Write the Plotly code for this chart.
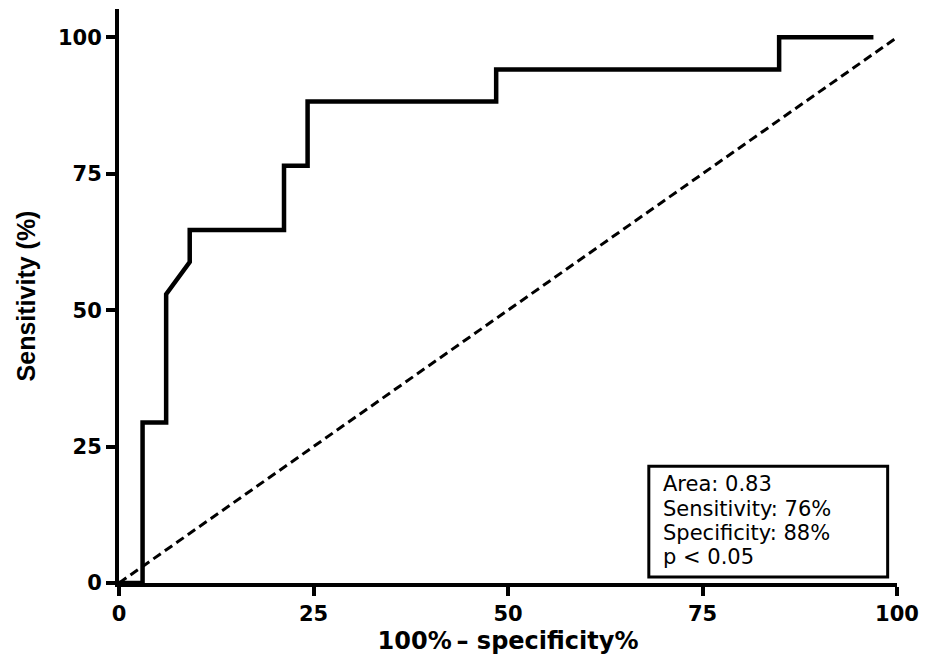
import plotly.graph_objects as go

# ROC curve points (100% - specificity, sensitivity)
fpr = [0, 3.03, 3.03, 6.06, 6.06, 9.09, 9.09, 21.21, 21.21, 24.24, 24.24,
       48.48, 48.48, 84.85, 84.85, 96.97]
sens = [0, 0, 29.41, 29.41, 52.94, 58.82, 64.71, 64.71, 76.47, 76.47, 88.24,
        88.24, 94.12, 94.12, 100, 100]
ref_x = [0, 100]
ref_y = [0, 100]
tick_vals = [0, 25, 50, 75, 100]
tick_text = ["0", "25", "50", "75", "100"]
box_lines = ["Area: 0.83", "Sensitivity: 76%", "Specificity: 88%", "p < 0.05"]
box_line_y = [18.1, 13.6, 9.15, 4.7]

fig = go.Figure()
fig.add_trace(go.Scatter(x=ref_x, y=ref_y, mode="lines",
                         line=dict(color="black", width=3, dash="9px,5px"),
                         showlegend=False, hoverinfo="skip"))
fig.add_trace(go.Scatter(x=fpr, y=sens, mode="lines",
                         line=dict(color="black", width=4.5),
                         showlegend=False))

fig.add_shape(type="rect", xref="x", yref="y", x0=68.1, x1=98.8, y0=1.1, y1=21.4,
              line=dict(color="black", width=3), fillcolor="white", layer="above")
for t, yy in zip(box_lines, box_line_y):
    fig.add_annotation(x=69.8, y=yy, xref="x", yref="y", text=t, showarrow=False,
                       xanchor="left", yanchor="middle", borderpad=0,
                       font=dict(family="DejaVu Sans", size=21, color="black"))

axis_font = dict(family="DejaVu Sans", size=21, color="black", weight="bold")
fig.update_xaxes(range=[0, 100], tickvals=tick_vals, ticktext=tick_text,
                 showline=True, linecolor="black", linewidth=4, automargin=False,
                 ticks="outside", ticklen=9, tickwidth=4, tickcolor="black",
                 showgrid=False, zeroline=False, tickfont=axis_font,
                 title=dict(text="100%\u2009\u2013 specificity%",
                            font=dict(family="DejaVu Sans", size=24, color="black", weight="bold"),
                            standoff=14))
fig.update_yaxes(range=[0, 105.2], tickvals=tick_vals, ticktext=tick_text,
                 showline=True, linecolor="black", linewidth=4, automargin=False,
                 ticks="outside", ticklen=9, tickwidth=4, tickcolor="black",
                 showgrid=False, zeroline=False, tickfont=axis_font,
                 title=dict(text="Sensitivity (%)",
                            font=dict(family="Liberation Sans", size=25, color="black", weight="bold"),
                            standoff=16))

fig.update_layout(width=928, height=655, plot_bgcolor="white", paper_bgcolor="white",
                  margin=dict(l=119, r=31, t=9, b=72, autoexpand=False), showlegend=False)

fig.write_html("out.html")
